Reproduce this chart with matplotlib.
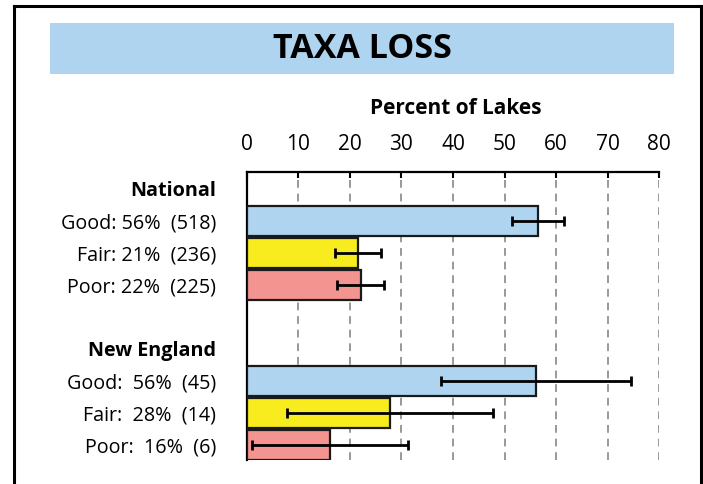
import matplotlib
matplotlib.use("Agg")
import matplotlib.pyplot as plt
from matplotlib.lines import Line2D
from matplotlib.patches import Rectangle

plt.rcParams['font.family'] = ['Open Sans', 'DejaVu Sans']

# ---- data ----
title = "TAXA LOSS"
xlabel = "Percent of Lakes"
groups = ["National", "New England"]
labels_national = ["Good: 56%  (518)", "Fair: 21%  (236)", "Poor: 22%  (225)"]
labels_ne = ["Good:  56%  (45)", "Fair:  28%  (14)", "Poor:  16%  (6)"]
values_national = [56.5, 21.5, 22.1]
low_national = [51.4, 17.1, 17.6]
high_national = [61.6, 26.0, 26.6]
values_ne = [56.1, 27.8, 16.1]
low_ne = [37.7, 7.9, 1.0]
high_ne = [74.6, 47.8, 31.3]
colors = ["#aed4f0", "#f8ec1e", "#f49491"]
xticks = [0, 10, 20, 30, 40, 50, 60, 70, 80]

W, H = 703, 484
fig = plt.figure(figsize=(W / 100, H / 100), dpi=100)

# frame
fl = 2.2
fig.add_artist(Line2D([14 / W, 14 / W], [0, 1 - 6 / H], color="black", lw=fl, transform=fig.transFigure))
fig.add_artist(Line2D([701 / W, 701 / W], [0, 1 - 6 / H], color="black", lw=fl, transform=fig.transFigure))
fig.add_artist(Line2D([14 / W, 701 / W], [1 - 6 / H, 1 - 6 / H], color="black", lw=fl, transform=fig.transFigure))

# title band
fig.add_artist(Rectangle((50 / W, 1 - 74 / H), (674 - 50) / W, (74 - 23) / H,
                         transform=fig.transFigure, facecolor="#aed4f0", edgecolor="none"))
fig.text(362 / W, 1 - 49 / H, title, ha="center", va="center", fontsize=24.5,
         fontweight="bold", color="black")

left, right, top, bottom = 246.7, 659.3, 172, 460
ax = fig.add_axes([left / W, 1 - bottom / H, (right - left) / W, (bottom - top) / H])

pos_nat = [0, 1, 2]
pos_ne = [5, 6, 7]
bh = 0.93
for pos, vals, lo, hi in [(pos_nat, values_national, low_national, high_national),
                          (pos_ne, values_ne, low_ne, high_ne)]:
    ax.barh(pos, vals, height=bh, color=colors, edgecolor="#1a1a1a", linewidth=1.6, zorder=3)
    xerr = [[v - l for v, l in zip(vals, lo)], [h - v for v, h in zip(vals, hi)]]
    ax.errorbar(vals, pos, xerr=xerr, fmt="none", ecolor="black", elinewidth=2,
                capsize=3.6, capthick=2, zorder=4)

ax.set_xlim(0, 80)
ax.set_ylim(7.47, -1.53)

ax.xaxis.tick_top()
ax.set_xticks(xticks)
ax.set_xticklabels([str(t) for t in xticks], fontsize=15)
ax.tick_params(axis="x", direction="in", length=4, width=1.5, pad=12, colors="black")

yt = [-1] + pos_nat + [4] + pos_ne
ylabels = [groups[0]] + labels_national + [groups[1]] + labels_ne
ax.set_yticks(yt)
ax.set_yticklabels(ylabels, fontsize=14.2)
ax.tick_params(axis="y", length=0, pad=22)
for i, t in enumerate(ax.get_yticklabels()):
    if i in (0, 4):
        t.set_fontweight("bold")

for x in xticks[1:]:
    ax.axvline(x, color="#999999", lw=1.4, ls=(0, (4, 3)), zorder=1)

for s in ["right", "bottom"]:
    ax.spines[s].set_visible(False)
ax.spines["top"].set_linewidth(1.6)
ax.spines["left"].set_linewidth(1.6)

fig.text(456 / W, 1 - 109 / H, xlabel, ha="center", va="center", fontsize=15, fontweight="bold")

fig.savefig("out.png", dpi=100)
